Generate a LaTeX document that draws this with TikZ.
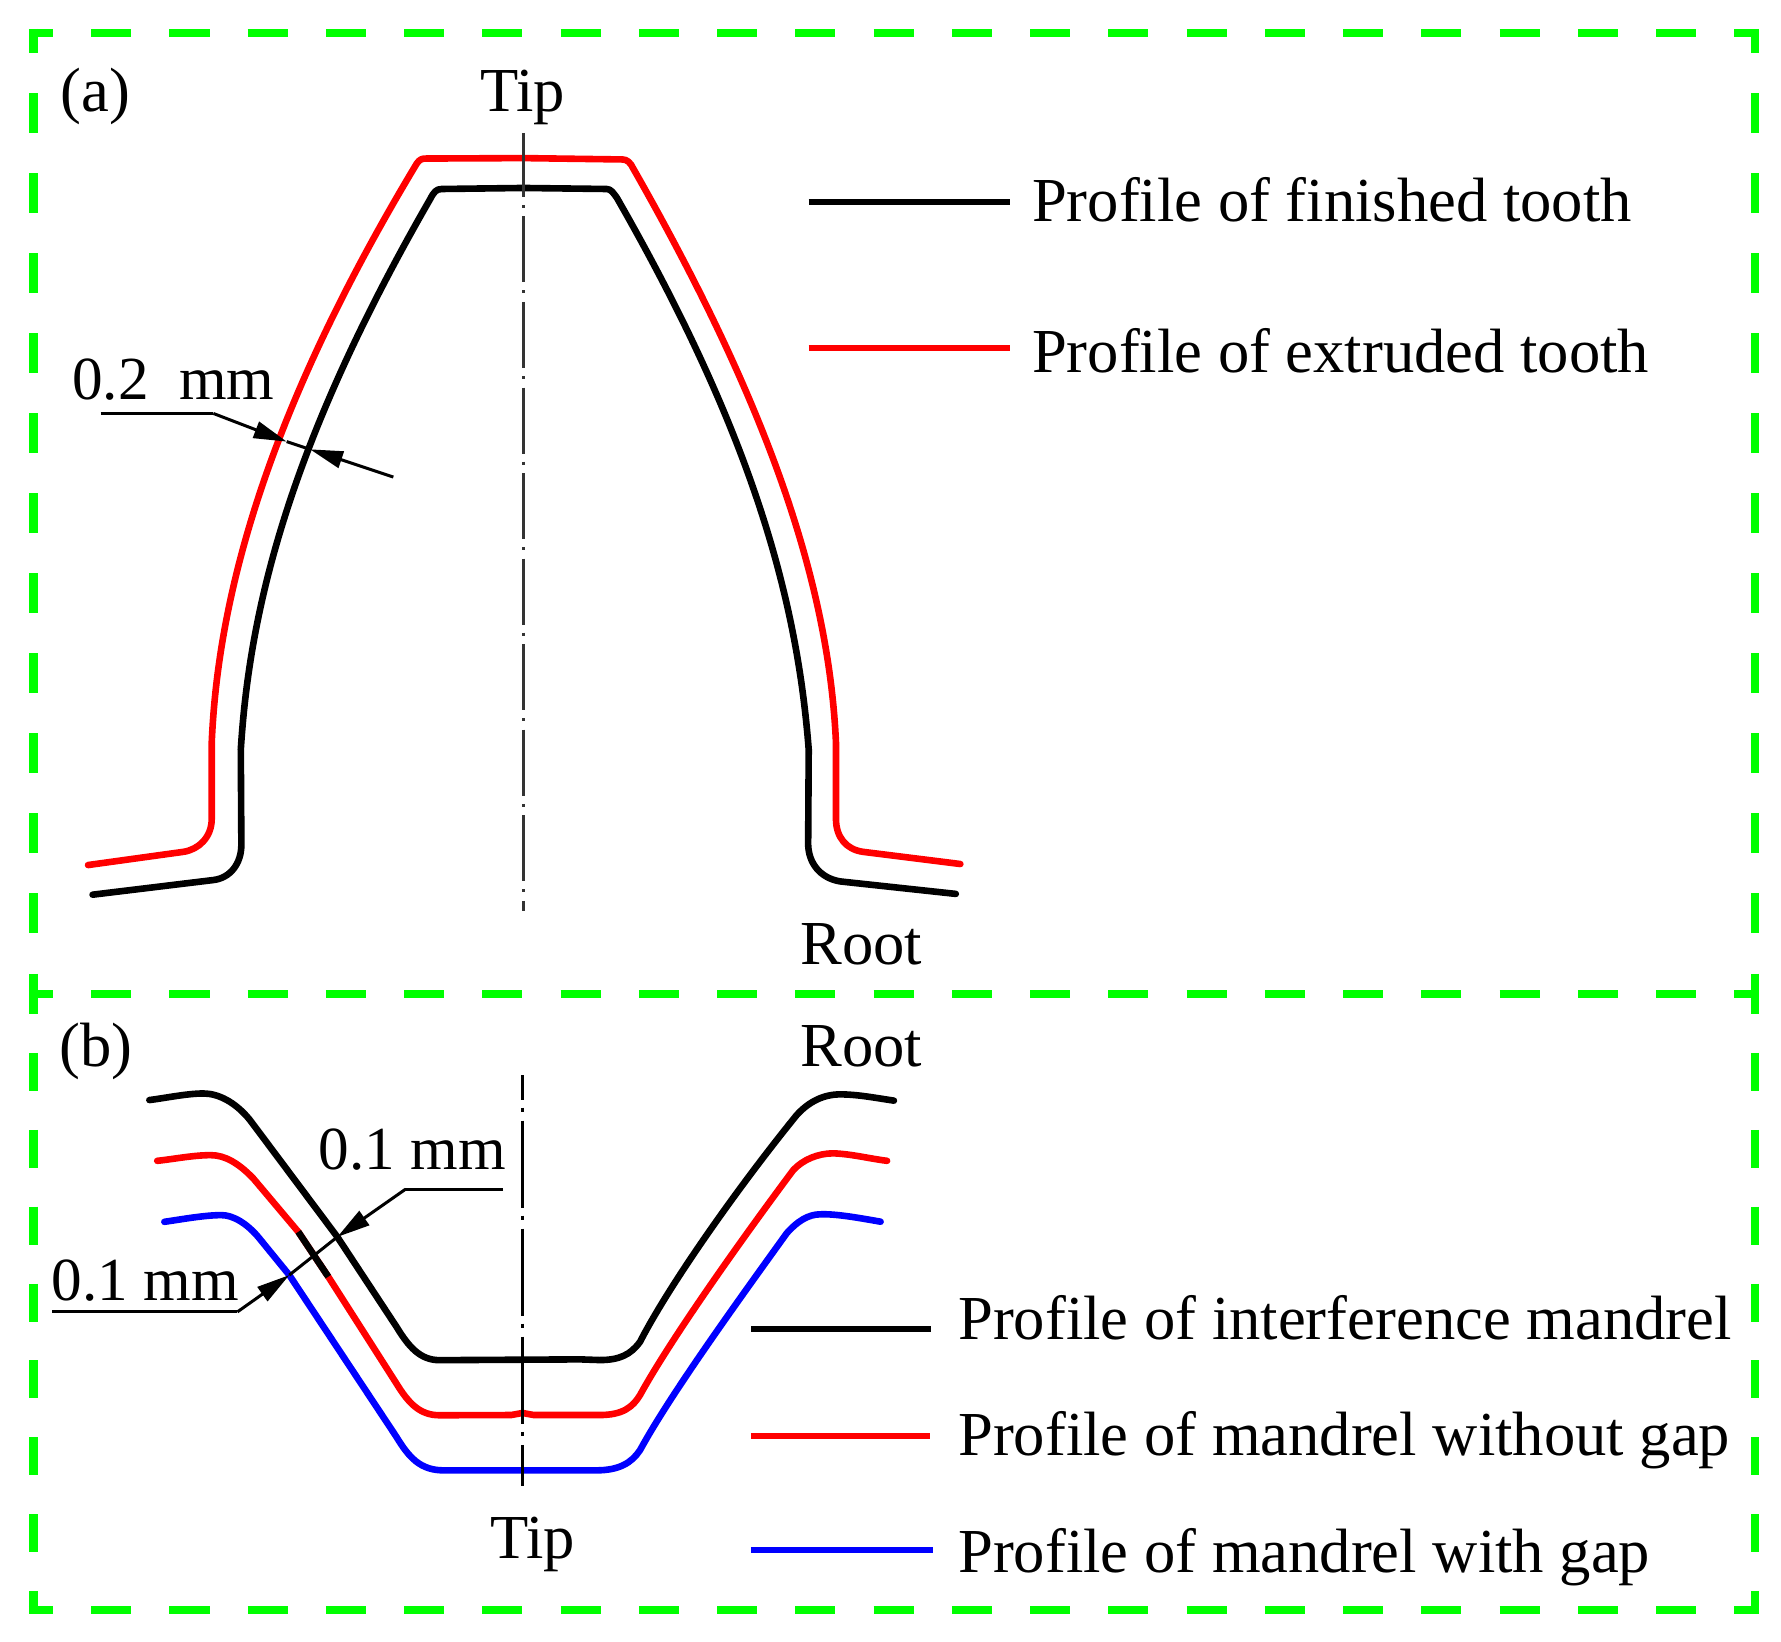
\documentclass[tikz,border=0pt]{standalone}
\usepackage{fontspec}
\setmainfont{Liberation Serif}
\usetikzlibrary{arrows.meta}
\definecolor{fgreen}{RGB}{0,255,0}
\definecolor{fred}{RGB}{255,0,0}
\definecolor{fblue}{RGB}{0,0,255}
\tikzset{
  frameh/.style={draw=fgreen,line width=0.08cm,dash pattern=on 0.40cm off 0.382cm,dash phase=0.16cm},
  framev/.style={draw=fgreen,line width=0.08cm,dash pattern=on 0.40cm off 0.40cm,dash phase=0.16cm},
  framew/.style={draw=fgreen,line width=0.08cm,dash pattern=on 0.38cm off 0.388cm},
  prof/.style={line width=0.066cm,line join=round,line cap=round},
  legendline/.style={line width=0.06cm},
  lbl/.style={anchor=base west,inner sep=0pt,font=\fontsize{17.8}{20}\selectfont},
  dim/.style={anchor=base west,inner sep=0pt,font=\fontsize{17.4}{20}\selectfont},
  leader/.style={draw=black,line width=0.03cm},
  tipped/.style={leader,-{Triangle[length=0.33cm,width=0.17cm]}},
  centrea/.style={draw=black!80,line width=0.026cm,dash pattern=on 0.66cm off 0.08cm on 0.03cm off 0.085cm,dash phase=0.02cm},
  centreb/.style={draw=black,line width=0.028cm,dash pattern=on 0.87cm off 0.08cm on 0.04cm off 0.09cm,dash phase=0.625cm},
}
\begin{document}
\begin{tikzpicture}[x=0.011358cm,y=-0.011358cm]
\useasboundingbox (0,0) rectangle (1568,1444.8);
% frame
\begin{scope}[x=0.01cm,y=-0.01cm]
  \draw[frameh] (29,33) -- (1759,33);
  \draw[frameh] (29,994) -- (1759,994);
  \draw[frameh] (29,1610) -- (1759,1610);
  \draw[framev] (33.5,29) -- (33.5,1014);
  \draw[framev] (1755,29) -- (1755,1014);
  \draw[framew] (33.5,1053) -- (33.5,1614);
  \draw[framew] (1755,1053) -- (1755,1614);
\end{scope}
% upper tooth
\draw[prof,fred] (77.5,761.6) -- (161.3,750) .. controls (175,748) and (186.4,737) .. (186.4,721) -- (186.4,654)
  .. controls (192,520) and (238,358) .. (366.9,144)
  .. controls (369.5,140.5) and (371,139.6) .. (375,139.6) -- (460.8,139.2) -- (548,140.4)
  .. controls (552,140.4) and (555,143) .. (557.6,148.5)
  .. controls (681,365) and (730,520) .. (736,654)
  -- (736,721) .. controls (736,737) and (745,748) .. (760,750) -- (845.5,760.7);
\draw[prof,black] (81.5,787.7) -- (187.8,774.8) .. controls (203,773) and (212.5,760) .. (212.5,743.7) -- (212,660)
  .. controls (220,530) and (258,385) .. (378.6,175.5)
  .. controls (382,169) and (384,166.4) .. (389,166.4) -- (460.8,165.5) -- (534,166.4)
  .. controls (538,166.4) and (540,170) .. (543,174)
  .. controls (664,385) and (702,530) .. (712,660)
  -- (711.5,743.7) .. controls (712,760) and (722,773) .. (739.6,776) -- (841.5,787);
% lower tooth
\draw[prof,black] (131.5,968.5) .. controls (147,966.5) and (165,962.7) .. (179,962.7) .. controls (192,962.7) and (207,970) .. (220,986)
  -- (297,1089) -- (349,1168) .. controls (360,1186) and (370,1197.5) .. (387,1197.5) -- (510.7,1196.8) -- (528,1197.4)
  .. controls (545,1197.4) and (555,1193) .. (563.5,1181.3)
  .. controls (590,1130) and (650,1045) .. (701.4,981.7)
  .. controls (712,970) and (725,963.5) .. (739.6,963.5) .. controls (755,963.5) and (770,966.5) .. (787,969);
\draw[prof,fred] (138.4,1022) .. controls (153,1020.5) and (170,1017) .. (185.5,1017) .. controls (198,1017) and (210,1024) .. (223,1037.5)
  -- (262.6,1084.5) -- (289,1124) -- (349,1218) .. controls (360,1236) and (370,1246) .. (387,1246) -- (450,1245.8) -- (460,1244) -- (470,1245.8) -- (528,1245.8)
  .. controls (548,1245.8) and (557,1239) .. (563.5,1228.2)
  .. controls (590,1180) and (650,1095) .. (698.5,1030)
  .. controls (707,1021) and (720,1015.4) .. (733.7,1015.4) .. controls (750,1016) and (765,1020) .. (781,1022);
\draw[prof,fblue] (144.7,1075.7) .. controls (160,1073.5) and (180,1069.8) .. (195,1069.8) .. controls (205,1069.8) and (218,1077) .. (229.6,1091.8)
  -- (254.7,1122.6) -- (349,1265) .. controls (360,1283) and (370,1295) .. (392,1294.5) -- (525,1294.5)
  .. controls (545,1294.5) and (556,1288) .. (563.5,1276.7)
  .. controls (590,1228) and (650,1145) .. (692.6,1085.8)
  .. controls (702,1075) and (712,1069.1) .. (722,1069.1) .. controls (735,1068.5) and (755,1072) .. (775.3,1075.6);
\draw[prof,black,line cap=butt] (262.6,1084.5) -- (289,1124);
% centre lines
\draw[centrea] (461,117) -- (461,802);
\draw[centreb] (460,946.5) -- (460,1308);
% annotations
\coordinate (a1) at (88.6,364);
\coordinate (a2) at (187.8,364);
\coordinate (a3) at (252.4,388.8);
\coordinate (a4) at (346.3,420);
\coordinate (a5) at (272.9,395.6);
\draw[tipped] (a2) -- (a3);
\draw[leader] (a1) -- (a2);
\draw[tipped] (a4) -- (a5);
\draw[leader] (a3) -- (a5);
\coordinate (b1) at (443,1047);
\coordinate (b2) at (357,1047);
\coordinate (b3) at (297,1089);
\coordinate (b4) at (46,1155);
\coordinate (b5) at (209,1155);
\coordinate (b6) at (254.7,1122.6);
\draw[leader] (b1) -- (b2);
\draw[tipped] (b2) -- (b3);
\draw[leader] (b4) -- (b5);
\draw[tipped] (b5) -- (b6);
\draw[leader] (b3) -- (b6);
% legend lines
\coordinate (l1a) at (712,177.5); \coordinate (l1b) at (889,177.5);
\coordinate (l2a) at (712,306.5); \coordinate (l2b) at (889,306.5);
\coordinate (l3a) at (661.5,1170); \coordinate (l3b) at (820,1170);
\coordinate (l4a) at (661,1264); \coordinate (l4b) at (819,1264);
\coordinate (l5a) at (661,1365); \coordinate (l5b) at (821,1365);
\draw[legendline,black] (l1a) -- (l1b);
\draw[legendline,fred] (l2a) -- (l2b);
\draw[legendline,black] (l3a) -- (l3b);
\draw[legendline,fred] (l4a) -- (l4b);
\draw[legendline,fblue] (l5a) -- (l5b);
% text
\node[lbl] (ta) at (53,98) {(a)};
\node[lbl] (tb) at (52,939) {(b)};
\node[lbl] (tip1) at (422,98) {Tip};
\node[lbl] (tip2) at (431,1372) {Tip};
\node[lbl] (root1) at (704,849) {Root};
\node[lbl] (root2) at (704,939) {Root};
\node[dim] (d1) at (63,352) {0.2\hspace{0.5em}mm};
\node[dim] (d2) at (280,1030) {0.1 mm};
\node[dim] (d3) at (45,1145) {0.1 mm};
\node[lbl] (e1) at (908,195) {Profile of finished tooth};
\node[lbl] (e2) at (908,328) {Profile of extruded tooth};
\node[lbl] (e3) at (843,1179) {Profile of interference mandrel};
\node[lbl] (e4) at (843,1281) {Profile of mandrel without gap};
\node[lbl] (e5) at (843,1384) {Profile of mandrel with gap};
\end{tikzpicture}
\end{document}
